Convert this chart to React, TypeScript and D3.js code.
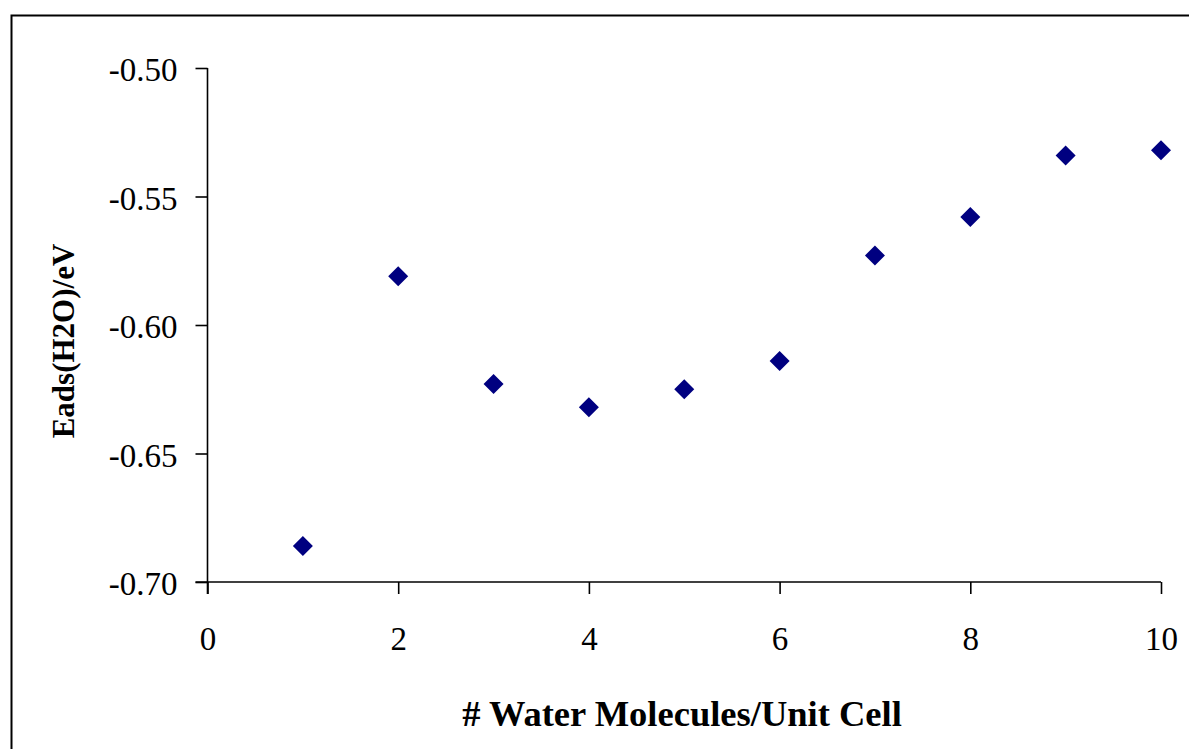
import * as d3 from "d3";
import { useEffect, useRef } from "react";

// number of water molecules per unit cell vs adsorption energy
const waterMolecules = [1, 2, 3, 4, 5, 6, 7, 8, 9, 10];
const eads = [-0.686, -0.581, -0.623, -0.632, -0.625, -0.614, -0.573, -0.558, -0.534, -0.532];

const xTicks = [0, 2, 4, 6, 8, 10];
const yTicks = [-0.7, -0.65, -0.6, -0.55, -0.5];

const xTitle = "# Water Molecules/Unit Cell";
const yTitle = "Eads(H2O)/eV";

const W = 1189;
const H = 749;

const App = () => {
  const svgRef = useRef<SVGSVGElement | null>(null);

  useEffect(() => {
    const svg = d3.select(svgRef.current);
    svg.selectAll("*").remove();

    const font = "'Liberation Serif', 'Times New Roman', serif";
    const left = 207.5;
    const right = 1161;
    const top = 68;
    const bottom = 582;

    const x = d3.scaleLinear().domain([0, 10]).range([left, right]);
    const y = d3.scaleLinear().domain([-0.7, -0.5]).range([bottom, top]);

    // chart frame (only left and top visible in the picture)
    svg
      .append("rect")
      .attr("x", 11.5)
      .attr("y", 15.5)
      .attr("width", 1300)
      .attr("height", 900)
      .style("fill", "none")
      .style("stroke", "black")
      .style("stroke-width", "2px");

    const xAxis = svg
      .append("g")
      .attr("transform", `translate(0, ${bottom})`)
      .call(
        d3
          .axisBottom(x)
          .tickValues(xTicks)
          .tickSize(12)
          .tickSizeOuter(0)
          .tickFormat((d) => String(d))
      );
    xAxis.select(".domain").attr("d", `M${left - 12},0H${right}`);

    // hyphen instead of d3's unicode minus
    const fmt = (d: d3.NumberValue) => d3.format(".2f")(d).replace("\u2212", "-");
    const yAxis = svg
      .append("g")
      .attr("transform", `translate(${left}, 0)`)
      .call(d3.axisLeft(y).tickValues(yTicks).tickSize(12).tickSizeOuter(0).tickFormat(fmt));
    yAxis.select(".domain").attr("d", `M0,${top}V${bottom + 12}`);

    [xAxis, yAxis].forEach((g) => {
      g.selectAll("path, line").style("stroke", "black").style("stroke-width", "1.6px");
      g.selectAll("text")
        .style("font-family", font)
        .style("font-size", "33px")
        .style("fill", "black");
    });
    xAxis.selectAll("text").attr("y", 68).attr("dy", 0);
    yAxis.selectAll("text").attr("x", -30).attr("dy", "0.38em");

    svg
      .append("text")
      .attr("x", 682)
      .attr("y", 726)
      .attr("text-anchor", "middle")
      .style("font-family", font)
      .style("font-size", "36.5px")
      .style("font-weight", "bold")
      .text(xTitle);

    svg
      .append("text")
      .attr("transform", `translate(74, 341) rotate(-90)`)
      .attr("text-anchor", "middle")
      .style("font-family", font)
      .style("font-size", "31px")
      .style("font-weight", "bold")
      .text(yTitle);

    const diamond = d3.symbol().type(d3.symbolSquare).size(200);
    svg
      .append("g")
      .selectAll("path")
      .data(waterMolecules)
      .enter()
      .append("path")
      .attr("d", diamond()!)
      .attr("transform", (d, i) => `translate(${x(d)}, ${y(eads[i])}) rotate(45)`)
      .style("fill", "#000080");
  }, []);

  return (
    <svg
      ref={svgRef}
      width={W}
      height={H}
      style={{ position: "absolute", left: 0, top: 0, background: "white" }}
    />
  );
};

export default App;
